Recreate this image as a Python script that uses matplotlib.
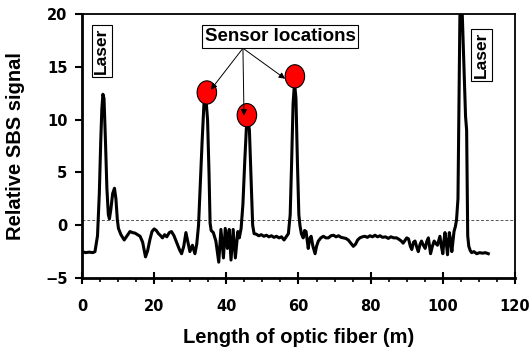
import matplotlib
matplotlib.use("Agg")
import matplotlib.pyplot as plt
from matplotlib.patches import Ellipse
from matplotlib.ticker import MultipleLocator

plt.rcParams['font.family'] = ['Liberation Sans', 'DejaVu Sans']
plt.rcParams['font.weight'] = 'bold'

fiber_pos = [0.0, 1.0, 2.0, 3.0, 3.6, 4.3, 4.8, 5.2, 5.5, 5.8, 6.1, 6.5, 6.9, 7.3, 7.6,
             8.0, 8.5, 9.0, 9.4, 9.8, 10.1, 10.8, 11.7, 12.5, 13.3, 14.0, 14.7, 15.4,
             16.1, 16.8, 17.6, 18.2, 18.8, 19.4, 20.0, 20.6, 21.2, 21.8, 22.3, 22.9,
             23.5, 24.2, 24.8, 25.5, 26.2, 27.0, 27.6, 28.2, 28.8, 29.3, 29.9, 30.6,
             31.3, 31.8, 32.3, 32.8, 33.3, 33.8, 34.3, 34.8, 35.2, 35.5, 35.8, 36.4,
             37.1, 37.9, 38.5, 39.2, 39.7, 40.3, 40.8, 41.3, 41.9, 42.5, 43.2, 43.6,
             44.1, 44.6, 45.1, 45.6, 46.0, 46.4, 46.9, 47.3, 47.7, 48.3, 49.0, 49.7,
             50.4, 51.1, 51.8, 52.5, 53.2, 53.9, 54.6, 55.3, 56.0, 56.6, 57.2, 57.7,
             58.1, 58.5, 58.9, 59.3, 59.7, 60.1, 60.4, 60.8, 61.3, 61.7, 62.1, 62.7,
             63.1, 63.5, 64.0, 64.6, 65.0, 65.5, 66.2, 66.9, 67.6, 68.3, 69.0, 69.7,
             70.4, 71.1, 71.8, 72.4, 73.1, 73.8, 74.5, 75.2, 75.8, 76.4, 77.0, 77.7,
             78.4, 79.1, 79.8, 80.5, 81.2, 81.9, 82.6, 83.3, 84.1, 84.9, 85.6, 86.4,
             87.2, 87.9, 88.5, 89.0, 89.6, 90.0, 90.5, 91.0, 91.4, 91.9, 92.3, 92.8,
             93.2, 93.7, 94.1, 94.6, 95.1, 95.6, 96.0, 96.6, 97.1, 97.6, 98.0, 98.5,
             99.2, 99.6, 100.0, 100.3, 100.6, 101.0, 101.3, 101.6, 101.8, 102.2, 102.5,
             102.8, 103.1, 103.5, 103.8, 104.2, 104.8, 105.2, 106.3, 106.6, 106.9,
             107.2, 107.6, 108.0, 108.6, 109.4, 110.2, 111.0, 111.8, 112.6]
sbs_signal = [-2.5, -2.6, -2.55, -2.6, -2.5, -1.0, 3.0, 8.0, 11.0, 12.4, 12.0, 8.0, 3.5, 1.0, 0.6,
              1.5, 3.0, 3.5, 2.5, 0.5, -0.3, -0.9, -1.4, -1.0, -0.6, -0.7, -0.75, -0.9,
              -1.05, -1.6, -3.0, -2.4, -1.4, -0.6, -0.35, -0.5, -0.8, -1.0, -1.2, -0.9,
              -1.1, -0.7, -0.6, -1.0, -1.6, -2.3, -2.7, -2.0, -0.7, -1.5, -2.5, -1.9,
              -2.7, -1.8, 0.0, 4.0, 8.0, 11.5, 12.2, 10.0, 5.0, 0.2, -0.5, -0.7,
              -1.5, -3.5, -0.4, -3.1, -0.3, -2.2, -0.4, -3.3, -0.4, -3.1, -0.6, -1.2,
              -0.3, 2.0, 6.0, 9.5, 10.0, 9.0, 4.0, 0.0, -0.8, -0.85, -1.0, -0.9,
              -1.05, -0.95, -1.1, -1.0, -1.15, -1.05, -1.2, -1.1, -1.4, -1.1, -0.8, 1.0,
              6.0, 11.5, 13.5, 12.0, 6.0, 1.0, 0.0, -0.8, -1.2, -0.5, -0.6, -2.2,
              -1.3, -1.05, -2.0, -2.7, -2.0, -1.5, -1.2, -1.05, -1.2, -1.2, -1.0, -0.95,
              -1.1, -1.0, -1.15, -1.2, -1.25, -1.4, -1.7, -2.0, -1.8, -1.4, -1.2, -1.1,
              -1.05, -1.15, -1.0, -1.1, -0.95, -1.1, -1.0, -1.15, -1.1, -1.25, -1.1, -1.2,
              -1.2, -1.35, -1.5, -1.7, -1.4, -1.2, -1.3, -2.0, -2.3, -1.6, -1.5, -2.1,
              -2.5, -1.8, -1.5, -1.9, -2.2, -1.5, -1.2, -2.7, -2.0, -1.5, -1.7, -1.9,
              -1.05, -2.0, -2.7, -1.5, -0.7, -1.8, -2.8, -1.5, -0.7, -1.5, -2.5,
              -1.5, -0.6, -0.1, 0.5, 2.5, 22.0, 22.0, 10.3, 9.0, -1.0,
              -2.0, -2.4, -2.6, -2.5, -2.7, -2.6, -2.65, -2.6, -2.7]

sensor_x = [34.6, 45.7, 59.0]
sensor_y = [12.57, 10.42, 14.1]
threshold = 0.5

fig = plt.figure(figsize=(5.29, 3.51), dpi=100)
ax = fig.add_axes([0.155, 0.208, 0.8185, 0.752])

ax.axhline(threshold, color='#555555', lw=0.7, ls=(0, (3, 2)), zorder=1)
ax.plot(fiber_pos, sbs_signal, color='black', lw=2.2, zorder=2)

for sx, sy in zip(sensor_x, sensor_y):
    ax.add_patch(Ellipse((sx, sy), 5.4, 2.2, facecolor='#ff0000', edgecolor='black',
                         lw=0.8, zorder=3))

origin = (44.6, 16.76)
targets = [(35.7, 12.83), (44.9, 10.37), (56.3, 13.87)]
for t in targets:
    ax.annotate('', xy=t, xytext=origin,
                arrowprops=dict(arrowstyle='-|>', lw=0.7, color='black',
                                shrinkA=0, shrinkB=0, mutation_scale=9), zorder=4)

box = dict(boxstyle='square,pad=0.15', fc='white', ec='black', lw=0.8)
ax.text(54.9, 17.85, 'Sensor locations', fontsize=13.5, fontweight='bold',
        ha='center', va='center', bbox=box, zorder=5)
ax.text(5.5, 16.5, 'Laser', fontsize=12.5, fontweight='bold', rotation=90,
        ha='center', va='center', bbox=box, zorder=5)
ax.text(110.7, 16.1, 'Laser', fontsize=12.5, fontweight='bold', rotation=90,
        ha='center', va='center', bbox=box, zorder=5)

ax.set_xlim(0, 120)
ax.set_ylim(-5, 20)
ax.xaxis.set_major_locator(MultipleLocator(20))
ax.xaxis.set_minor_locator(MultipleLocator(5))
ax.yaxis.set_major_locator(MultipleLocator(5))

ax.tick_params(axis='x', which='major', direction='inout', length=8, width=1.5,
               labelsize=10.5, pad=11)
ax.tick_params(axis='x', which='minor', direction='out', length=3, width=1.2)
ax.tick_params(axis='y', which='major', direction='out', length=5, width=1.5,
               labelsize=10.5, pad=5.5)
ax.tick_params(top=False, right=False)
for lab in ax.get_xticklabels() + ax.get_yticklabels():
    lab.set_fontweight('bold')
    lab.set_family(['DejaVu Sans'])

ax.spines['left'].set_linewidth(2.0)
ax.spines['bottom'].set_linewidth(2.0)
ax.spines['top'].set_linewidth(1.3)
ax.spines['right'].set_linewidth(1.3)

ax.set_xlabel('Length of optic fiber (m)', fontsize=14.5, fontweight='bold', labelpad=10)
ax.set_ylabel('Relative SBS signal', fontsize=14.5, fontweight='bold', labelpad=14)

fig.savefig('out.png', dpi=100)
